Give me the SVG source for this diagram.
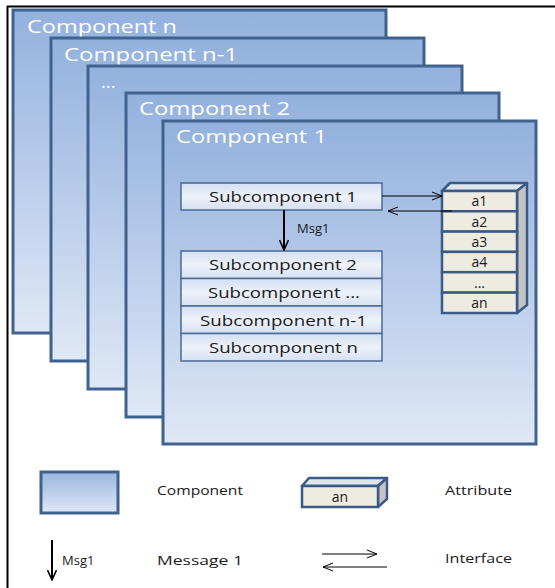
<svg xmlns="http://www.w3.org/2000/svg" width="555" height="588" viewBox="0 0 555 588">
<defs>
<linearGradient id="gComp" x1="0" y1="0" x2="0" y2="1">
<stop offset="0" stop-color="#93b1de"/>
<stop offset="1" stop-color="#dfe8f6"/>
</linearGradient>
<linearGradient id="gLeg" x1="0" y1="0" x2="0" y2="1">
<stop offset="0" stop-color="#9ab6e0"/>
<stop offset="1" stop-color="#dfe8f6"/>
</linearGradient>
<linearGradient id="gSub" x1="0" y1="0" x2="0" y2="1">
<stop offset="0" stop-color="#d3def1"/>
<stop offset="0.5" stop-color="#edf2fa"/>
<stop offset="1" stop-color="#d6e0f2"/>
</linearGradient>
<marker id="open" viewBox="0 0 10 10" refX="10" refY="5" markerWidth="10" markerHeight="10" markerUnits="userSpaceOnUse" orient="auto">
<path d="M0,1 L10,5 L0,9" fill="none" stroke="#000" stroke-width="1"/>
</marker>
<marker id="msg" viewBox="0 0 12 10" refX="11" refY="5" markerWidth="12" markerHeight="10" markerUnits="userSpaceOnUse" orient="auto">
<path d="M1,0.5 L11,5 L1,9.5" fill="none" stroke="#000" stroke-width="1.6"/>
</marker>
</defs>
<style>
.comp{fill:url(#gComp);stroke:#41628f;stroke-width:3}
.ct{font-family:"Open Sans","DejaVu Sans",sans-serif;font-size:18.5px;fill:#ffffff}
.sub{fill:url(#gSub);stroke:#4a6a98;stroke-width:1.5}
.st{font-family:"Open Sans","DejaVu Sans",sans-serif;font-size:15px;fill:#1a1a1a;text-anchor:middle}
.af{fill:#eeece1;stroke:#3b5a86;stroke-width:2.5}
.as{fill:#c4c4c4;stroke:#3b5a86;stroke-width:2.5;stroke-linejoin:round}
.at{fill:#dfe6ee;stroke:#3b5a86;stroke-width:2.5;stroke-linejoin:round}
.atx{font-family:"Open Sans","DejaVu Sans",sans-serif;font-size:14px;fill:#1a1a1a;text-anchor:middle}
.lt{font-family:"Open Sans","DejaVu Sans",sans-serif;font-size:13px;fill:#1a1a1a}
.ln{stroke:#000;stroke-width:1;fill:none}
</style>
<rect width="555" height="588" fill="#ffffff"/>
<g id="frame">
<line x1="7" y1="6.5" x2="555" y2="6.5" stroke="#000" stroke-width="2"/>
<line x1="7.5" y1="6" x2="7.5" y2="588" stroke="#000" stroke-width="2"/>
</g>
<g id="component-n">
<rect class="comp" x="13" y="10" width="373" height="323"/>
<text class="ct" x="27" y="33" textLength="150" lengthAdjust="spacingAndGlyphs">Component n</text>
</g>
<g id="component-n-1">
<rect class="comp" x="51" y="38" width="373" height="323"/>
<text class="ct" x="64" y="61" textLength="174" lengthAdjust="spacingAndGlyphs">Component n-1</text>
</g>
<g id="component-dots">
<rect class="comp" x="88" y="66" width="374" height="323"/>
<text class="ct" x="101" y="88">...</text>
</g>
<g id="component-2">
<rect class="comp" x="126" y="93" width="373" height="324"/>
<text class="ct" x="139" y="115" textLength="151" lengthAdjust="spacingAndGlyphs">Component 2</text>
</g>
<g id="component-1">
<rect class="comp" x="163" y="121" width="373" height="323"/>
<text class="ct" x="176" y="143" textLength="151" lengthAdjust="spacingAndGlyphs">Component 1</text>
</g>
<g id="subcomponent-1">
<rect class="sub" x="181" y="183" width="201" height="27"/>
<text class="st" x="283" y="202" textLength="148" lengthAdjust="spacingAndGlyphs">Subcomponent 1</text>
</g>
<g id="subcomponent-stack">
<rect class="sub" x="181" y="251" width="201" height="27.5"/>
<text class="st" x="283" y="270" textLength="148" lengthAdjust="spacingAndGlyphs">Subcomponent 2</text>
<rect class="sub" x="181" y="278.5" width="201" height="27.5"/>
<text class="st" x="284" y="298" textLength="152" lengthAdjust="spacingAndGlyphs">Subcomponent ...</text>
<rect class="sub" x="181" y="306" width="201" height="27.5"/>
<text class="st" x="283.5" y="326" textLength="167" lengthAdjust="spacingAndGlyphs">Subcomponent n-1</text>
<rect class="sub" x="181" y="333.5" width="201" height="27.5"/>
<text class="st" x="283.5" y="353" textLength="149" lengthAdjust="spacingAndGlyphs">Subcomponent n</text>
</g>
<g id="attributes">
<polygon class="at" points="442,191 450,183 527,183 517,191"/>
<polygon class="as" points="517,191 527,183 527,305 517,313"/>
<rect class="af" x="442" y="191" width="75" height="20.3"/>
<text class="atx" x="479.5" y="206">a1</text>
<rect class="af" x="442" y="211.3" width="75" height="20.3"/>
<text class="atx" x="479.5" y="226.5">a2</text>
<rect class="af" x="442" y="231.6" width="75" height="20.3"/>
<text class="atx" x="479.5" y="247">a3</text>
<rect class="af" x="442" y="251.9" width="75" height="20.3"/>
<text class="atx" x="479.5" y="267">a4</text>
<rect class="af" x="442" y="272.2" width="75" height="20.4"/>
<text class="atx" x="479.5" y="287.5">...</text>
<rect class="af" x="442" y="292.6" width="75" height="20.4"/>
<text class="atx" x="479.5" y="308">an</text>
</g>
<g id="connectors">
<line class="ln" x1="382" y1="196" x2="442" y2="196" marker-end="url(#open)"/>
<line class="ln" x1="452" y1="211" x2="388" y2="211" marker-end="url(#open)"/>
<line x1="284" y1="210" x2="284" y2="250" stroke="#000" stroke-width="2" marker-end="url(#msg)"/>
<text class="lt" x="297" y="233" font-size="13.5">Msg1</text>
</g>
<g id="legend-component">
<rect x="41" y="472" width="77" height="41" fill="url(#gLeg)" stroke="#41628f" stroke-width="3"/>
<text class="lt" x="157" y="495" textLength="86" lengthAdjust="spacingAndGlyphs">Component</text>
</g>
<g id="legend-attribute">
<polygon class="at" points="302,486 309,478 387,478 378,486"/>
<polygon class="as" points="378,486 387,478 387,499 378,507"/>
<rect class="af" x="302" y="486" width="76" height="21"/>
<text class="atx" x="340" y="501.5" font-size="15">an</text>
<text class="lt" x="445" y="495" textLength="67" lengthAdjust="spacingAndGlyphs">Attribute</text>
</g>
<g id="legend-message">
<line x1="52" y1="540" x2="52" y2="580" stroke="#000" stroke-width="2" marker-end="url(#msg)"/>
<text class="lt" x="62" y="565">Msg1</text>
<text class="lt" x="157" y="565" textLength="86" lengthAdjust="spacingAndGlyphs">Message 1</text>
</g>
<g id="legend-interface">
<line class="ln" x1="322" y1="554" x2="377" y2="554" marker-end="url(#open)"/>
<line class="ln" x1="387" y1="567" x2="323" y2="567" marker-end="url(#open)"/>
<text class="lt" x="445" y="563" textLength="67" lengthAdjust="spacingAndGlyphs">Interface</text>
</g>
</svg>
